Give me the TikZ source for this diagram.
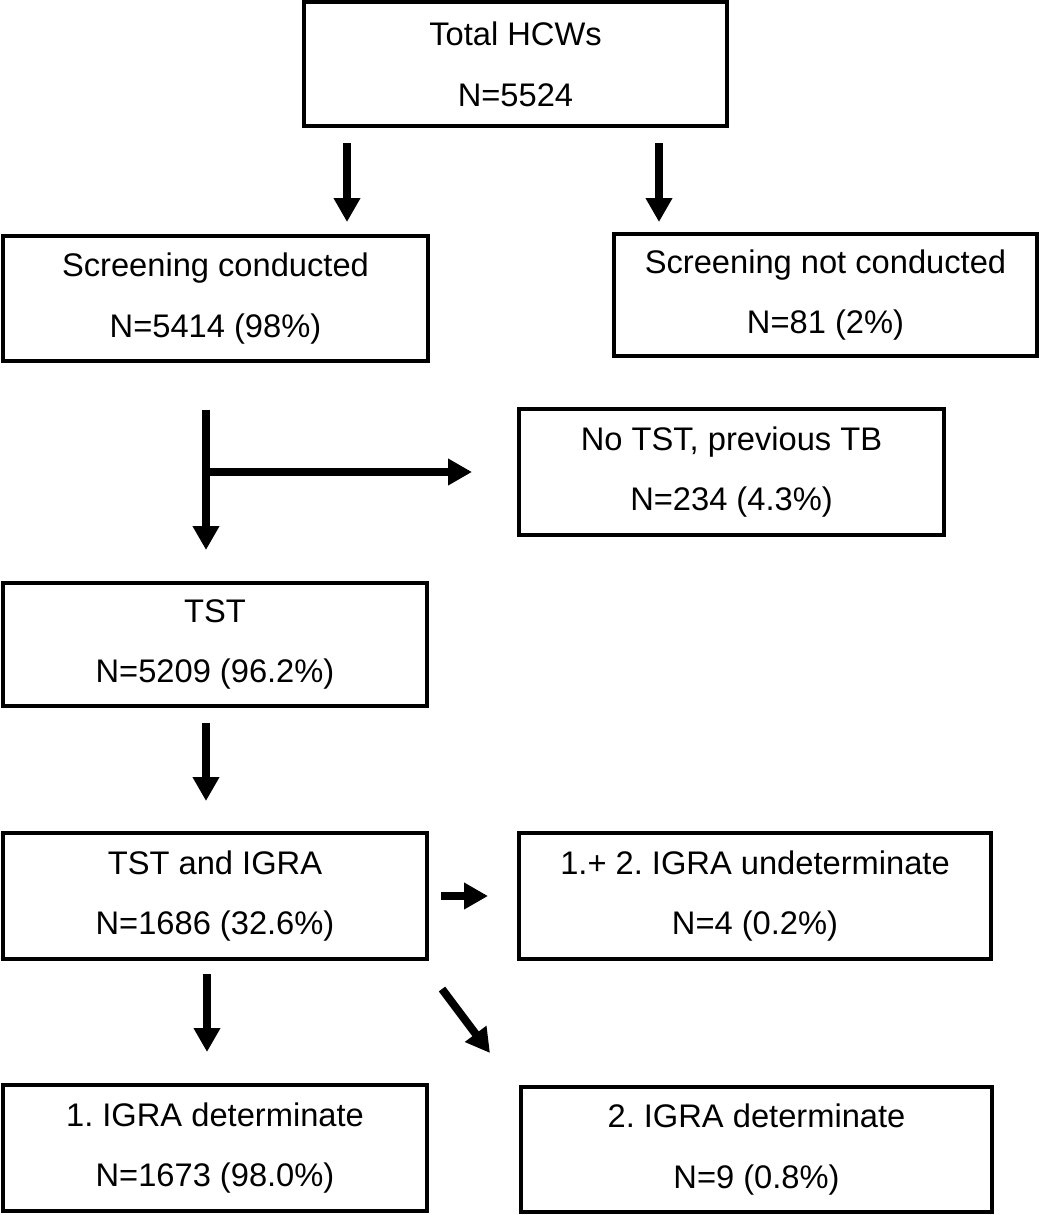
\documentclass[tikz,border=0pt]{standalone}
\usepackage{fontspec}
\setmainfont{Liberation Sans}
\usetikzlibrary{arrows.meta}
\frenchspacing
\begin{document}
\begin{tikzpicture}[x=0.75pt,y=-0.75pt,
  box/.style n args={2}{draw, line width=2.6pt, inner sep=0pt, align=center,
    minimum width=#1*0.75pt, minimum height=#2*0.75pt,
    font=\fontsize{24.5}{45.5}\selectfont},
  flow/.style={line width=6pt, -{Triangle[length=18pt,width=19pt]}}]
\useasboundingbox (0,0) rectangle (1039,1215);

\node[box={423}{124}] (total) at (515.5,64) {Total HCWs\\N=5524};
\node[box={425}{125}] (conducted) at (215.5,298.5) {Screening conducted\\N=5414 (98\%)};
\node[box={423}{122}] (notcond) at (825.5,295) {Screening not conducted\\N=81 (2\%)};
\node[box={425}{126}] (notst) at (731.5,472) {No TST, previous TB\\N=234 (4.3\%)};
\node[box={424}{123}] (tst) at (215,644.5) {TST\\N=5209 (96.2\%)};
\node[box={424}{126}] (igra) at (215,896) {TST and IGRA\\N=1686 (32.6\%)};
\node[box={472}{126}] (undet) at (755,896) {1.+ 2. IGRA undeterminate\\N=4 (0.2\%)};
\node[box={424}{126}] (det1) at (215,1148) {1. IGRA determinate\\N=1673 (98.0\%)};
\node[box={471}{125}] (det2) at (756.5,1149.5) {2. IGRA determinate\\N=9 (0.8\%)};

\coordinate (a1s) at (347,143);  \coordinate (a1e) at (347,222);
\coordinate (a2s) at (659,143);  \coordinate (a2e) at (659,222);
\coordinate (a3s) at (206,410);  \coordinate (a3e) at (206,550);
\coordinate (a3b) at (206,472);  \coordinate (a3r) at (472,472);
\coordinate (a4s) at (206,723);  \coordinate (a4e) at (206,801);
\coordinate (a5s) at (441,896);  \coordinate (a5e) at (488,896);
\coordinate (a6s) at (207,974);  \coordinate (a6e) at (207,1052);
\coordinate (a7s) at (442,989);  \coordinate (a7e) at (490,1053);

\draw[flow] (a1s) -- (a1e);
\draw[flow] (a2s) -- (a2e);
\draw[flow] (a3s) -- (a3e);
\draw[flow] (a3b) -- (a3r);
\draw[flow] (a4s) -- (a4e);
\draw[flow] (a5s) -- (a5e);
\draw[flow] (a6s) -- (a6e);
\draw[flow] (a7s) -- (a7e);
\end{tikzpicture}
\end{document}
